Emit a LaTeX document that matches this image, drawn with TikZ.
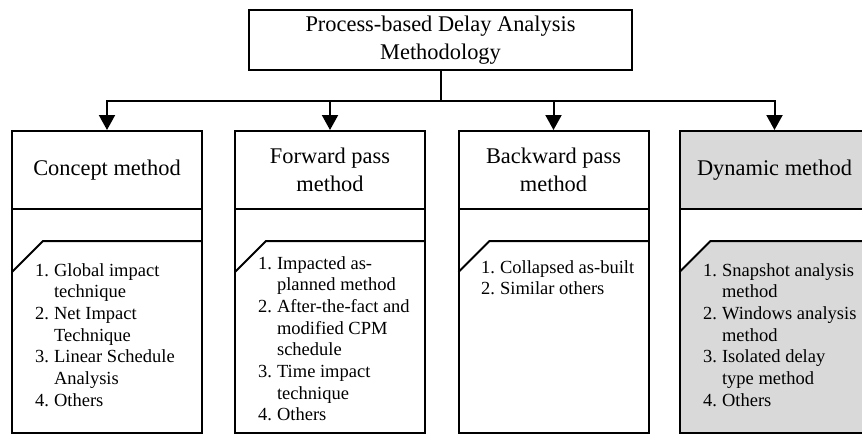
\documentclass[tikz,border=0pt]{standalone}
\usepackage{fontspec}
\setmainfont{Liberation Serif}
\usetikzlibrary{arrows.meta}
\definecolor{panelgray}{HTML}{D9D9D9}
\tikzset{
  ln/.style={line width=2pt},
  catbox/.style={draw, ln, minimum width=190pt, minimum height=78pt, align=center, inner sep=0pt, font=\fontsize{22.4}{27.5}\selectfont},
  topbox/.style={draw, ln, minimum width=383pt, minimum height=60pt, align=center, inner sep=0pt, font=\fontsize{22.4}{27.5}\selectfont},
  listtext/.style={anchor=base west, inner sep=0pt, font=\fontsize{18.5}{21.7}\selectfont},
  arr/.style={ln, -{Triangle[width=16pt,length=15pt]}},
}
\newcommand\lowpanel[3]{%
  \fill[#3] (#1,432.5) -- (#1,272) -- ({#1+31},241) -- (#2,241) -- (#2,432.5) -- cycle;
  \draw[ln] (#1,209) -- (#1,432.5) -- (#2,432.5) -- (#2,209);
  \draw[ln] (#1,272) -- ({#1+31},241) -- (#2,241);
}
\begin{document}
\begin{tikzpicture}[x=1pt,y=-1pt]
\useasboundingbox (0,0) rectangle (862,434);
\clip (0,0) rectangle (862,434);
\fill[white] (0,0) rectangle (862,434);

\lowpanel{12}{202}{white}
\lowpanel{235}{425}{white}
\lowpanel{458.5}{648.5}{white}
\lowpanel{679.5}{869.5}{panelgray}

\node[topbox] (top) at (440.5,40) {Process-based Delay Analysis\\Methodology};
\node[catbox] (c1) at (107,170) {Concept method};
\node[catbox] (c2) at (330,170) {Forward pass\\method};
\node[catbox] (c3) at (553.5,170) {Backward pass\\method};
\node[catbox, fill=panelgray] (c4) at (774.5,170) {Dynamic method};

\coordinate (j) at (440.5,101);
\coordinate (j1) at (c1.north |- j);
\coordinate (j2) at (c2.north |- j);
\coordinate (j3) at (c3.north |- j);
\coordinate (j4) at (c4.north |- j);
\draw[ln] (top.south) -- (j);
\draw[ln, line cap=rect] (j1) -- (j4);
\draw[arr] (j1) -- (c1.north);
\draw[arr] (j2) -- (c2.north);
\draw[arr] (j3) -- (c3.north);
\draw[arr] (j4) -- (c4.north);

\node[listtext] (t1) at (35,276) {\begin{tabular}[t]{@{}l@{\hspace{5pt}}l@{}}
1. & Global impact\\ & technique\\ 2. & Net Impact\\ & Technique\\
3. & Linear Schedule\\ & Analysis\\ 4. & Others\end{tabular}};
\node[listtext] (t2) at (258,269) {\begin{tabular}[t]{@{}l@{\hspace{5pt}}l@{}}
1. & Impacted as-\\ & planned method\\ 2. & After-the-fact and\\ & modified CPM\\ & schedule\\
3. & Time impact\\ & technique\\ 4. & Others\end{tabular}};
\node[listtext] (t3) at (481,273) {\begin{tabular}[t]{@{}l@{\hspace{5pt}}l@{}}
1. & Collapsed as-built\\ 2. & Similar others\end{tabular}};
\node[listtext] (t4) at (703,276) {\begin{tabular}[t]{@{}l@{\hspace{5pt}}l@{}}
1. & Snapshot analysis\\ & method\\ 2. & Windows analysis\\ & method\\
3. & Isolated delay\\ & type method\\ 4. & Others\end{tabular}};
\end{tikzpicture}
\end{document}
